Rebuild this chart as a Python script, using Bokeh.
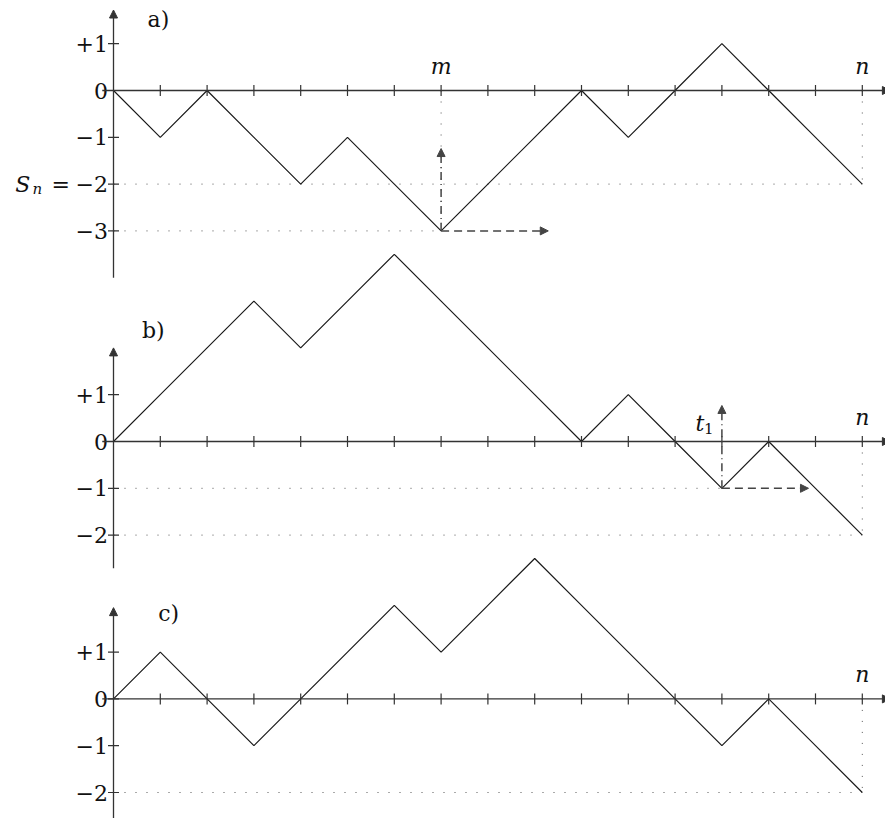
import numpy as np
from bokeh.plotting import figure
from bokeh.models import Arrow, NormalHead
from bokeh.core.properties import value
from bokeh.embed import file_html
from bokeh.resources import INLINE

# ---------------- data ----------------
steps = list(range(17))
path_a = [0, -1, 0, -1, -2, -1, -2, -3, -2, -1, 0, -1, 0, 1, 0, -1, -2]
path_b = [0, 1, 2, 3, 2, 3, 4, 3, 2, 1, 0, 1, 0, -1, 0, -1, -2]
path_c = [0, 1, 0, -1, 0, 1, 2, 1, 2, 3, 2, 1, 0, -1, 0, -1, -2]

ytick_vals_a = [1, 0, -1, -2, -3]
ytick_text_a = ["+1", "0", "−1", "−2", "−3"]
ytick_vals_b = [1, 0, -1, -2]
ytick_text_b = ["+1", "0", "−1", "−2"]
ytick_vals_c = [1, 0, -1, -2]
ytick_text_c = ["+1", "0", "−1", "−2"]

panel_labels = ["a)", "b)", "c)"]
m_step = 7          # time of minimum in a)
t1_step = 13        # first hitting time in b)
n_step = 16         # final time
S_n = -2            # final value
S_min = -3          # minimum in a)
level_t1 = -1       # level hit at t1 in b)

# ---------------- layout ----------------
U = 46.8                      # px per unit
W, H = 885, 818
x0 = -113 / U
y_top = 90 / U
FONT = "DejaVu Serif"
FS = "22px"
FS_SUB = "15px"
AX = "#333333"
LN = "#1a1a1a"
DOT = "#555555"

p = figure(width=W, height=H, x_range=(x0, x0 + W / U), y_range=(y_top - H / U, y_top),
           output_backend="svg", toolbar_location=None, min_border=0,
           x_axis_location=None, y_axis_location=None)
p.grid.visible = False
p.outline_line_color = None
p.background_fill_color = "white"

offsets = [0.0, -7.5, -13.0]


def txt(x, y, t, align="center", baseline="middle", size=FS, style="normal"):
    p.text(x=x, y=y, text=t, text_align=align, text_baseline=baseline,
           text_font=value(FONT), text_font_size=value(size), text_font_style=style,
           text_color="#111111")


def arrow(xs, ys, xe, ye, color=AX, width=1.3, dash="solid", size=8):
    p.add_layout(Arrow(x_start=xs, y_start=ys, x_end=xe, y_end=ye,
                       line_color=color, line_width=width, line_dash=dash,
                       end=NormalHead(size=size, fill_color=color, line_color=color, line_width=1)))


def dotted(xs0, ys0, xs1, ys1):
    p.segment(x0=xs0, y0=ys0, x1=xs1, y1=ys1, line_color=DOT, line_width=1, line_dash="1 10")


def panel(path, off, yvals, ytexts, ybot, ytop, label, lab_xy, n_dy):
    dotted([0], [S_n + off], [n_step], [S_n + off])
    dotted([n_step], [off], [n_step], [S_n + off])
    arrow(-0.24, off, 16.6, off)
    arrow(0, ybot + off, 0, ytop + off)
    p.scatter(x=steps[1:], y=[off] * (len(steps) - 1), marker="dash", size=11,
              angle=np.pi / 2, line_color=AX, line_width=1.2)
    p.scatter(x=[0] * len(yvals), y=[v + off for v in yvals], marker="dash", size=11,
              line_color=AX, line_width=1.2)
    p.line(steps, [v + off for v in path], line_color=LN, line_width=1.2)
    txt([-0.12] * len(yvals), [v + off for v in yvals], ytexts, align="right")
    txt([lab_xy[0]], [lab_xy[1] + off], [label])
    txt([n_step], [n_dy + off], ["n"], style="italic")


# panel a
oa = offsets[0]
dotted([0], [S_min + oa], [m_step], [S_min + oa])
dotted([m_step], [oa], [m_step], [S_min + oa])
panel(path_a, oa, ytick_vals_a, ytick_text_a, -4.0, 1.72, panel_labels[0], (0.96, 1.52), 0.52)
arrow(m_step, S_min + oa, m_step, S_min + 1.76 + oa, color="#444444", width=1.5, dash="8 4 1 4")
arrow(m_step, S_min + oa, m_step + 2.29, S_min + oa, color="#444444", width=1.5, dash="8 5")
txt([m_step], [0.52 + oa], ["m"], style="italic")
txt([-1.94], [S_n + oa], ["S"], style="italic")
txt([-1.63], [S_n - 0.11 + oa], ["n"], size=FS_SUB, style="italic")
txt([-1.13], [S_n + oa], ["="])

# panel b
ob = offsets[1]
dotted([0], [level_t1 + ob], [t1_step], [level_t1 + ob])
panel(path_b, ob, ytick_vals_b, ytick_text_b, -2.71, 2.0, panel_labels[1], (0.85, 2.37), 0.52)
arrow(t1_step, level_t1 + ob, t1_step, level_t1 + 1.77 + ob, color="#444444", width=1.5, dash="8 4 1 4")
arrow(t1_step, level_t1 + ob, t1_step + 1.85, level_t1 + ob, color="#444444", width=1.5, dash="8 5")
txt([t1_step - 0.47], [0.39 + ob], ["t"], style="italic")
txt([t1_step - 0.28], [0.27 + ob], ["1"], size=FS_SUB)

# panel c
oc = offsets[2]
panel(path_c, oc, ytick_vals_c, ytick_text_c, -2.9, 1.95, panel_labels[2], (1.18, 1.82), 0.52)

open("out.html", "w").write(file_html(p, INLINE))
